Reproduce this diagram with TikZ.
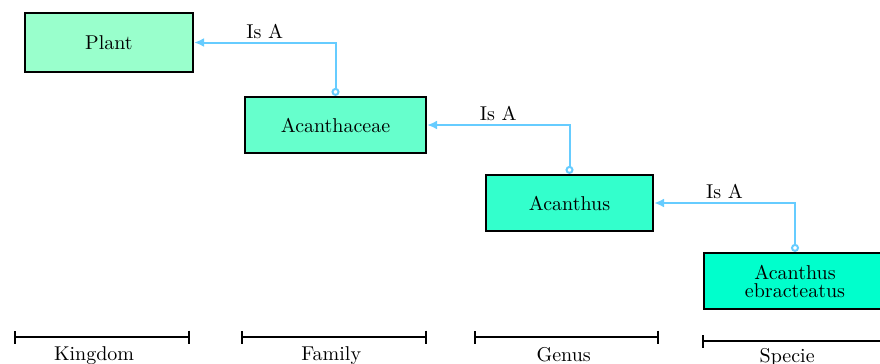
\documentclass[tikz,border=0pt]{standalone}
\usetikzlibrary{arrows.meta}
\definecolor{plantfill}{HTML}{99FFCC}
\definecolor{familyfill}{HTML}{66FFCC}
\definecolor{genusfill}{HTML}{33FFCC}
\definecolor{speciefill}{HTML}{00FFCC}
\definecolor{linkblue}{HTML}{66CCFF}
\tikzset{
  taxon/.style={draw=black, line width=1.1pt, minimum height=28pt, align=center, inner sep=2pt},
  isa/.style={draw=linkblue, line width=1pt, {Circle[open,length=4pt,width=4pt]}-{Latex[length=5pt,width=4.5pt]}},
  rankbar/.style={draw=black, line width=1pt, {Bar[width=6.5pt]}-{Bar[width=6.5pt]}},
  ranklabel/.style={below, inner sep=4.5pt}
}
\begin{document}
\begin{tikzpicture}[x=0.5pt, y=-0.5pt]
  \useasboundingbox (0,0) rectangle (880,364);

  % taxa
  \node[taxon, fill=plantfill, minimum width=84pt, minimum height=29.5pt] (plant) at (109,42.5) {Plant};
  \node[taxon, fill=familyfill, minimum width=90.5pt] (family) at (335.5,125) {Acanthaceae};
  \node[taxon, fill=genusfill, minimum width=83.5pt] (genus) at (569.5,203) {Acanthus};
  \node[taxon, fill=speciefill, minimum width=91pt] (specie) at (795,281) {Acanthus\\[-3pt]ebracteatus};

  % "Is A" links
  \draw[isa] (family.north) |- node[above, pos=0.75, inner sep=1.5pt] {Is A} (plant.east);
  \draw[isa] (genus.north) |- node[above, pos=0.75, inner sep=1.5pt] {Is A} (family.east);
  \draw[isa] (specie.north) |- node[above, pos=0.75, inner sep=1.5pt] {Is A} (genus.east);

  % rank scale
  \coordinate (k1) at (14,337);  \coordinate (k2) at (190,337);
  \coordinate (f1) at (241,337); \coordinate (f2) at (427,337);
  \coordinate (g1) at (474,337); \coordinate (g2) at (659,337);
  \coordinate (s1) at (702,341); \coordinate (s2) at (900,341);
  \draw[rankbar] (k1) -- node[ranklabel, pos=0.455] {Kingdom} (k2);
  \draw[rankbar] (f1) -- node[ranklabel, pos=0.485] {Family} (f2);
  \draw[rankbar] (g1) -- node[ranklabel, pos=0.485] {Genus} (g2);
  \draw[rankbar] (s1) -- node[ranklabel, inner sep=3pt, pos=0.43] {Specie} (s2);
\end{tikzpicture}
\end{document}
